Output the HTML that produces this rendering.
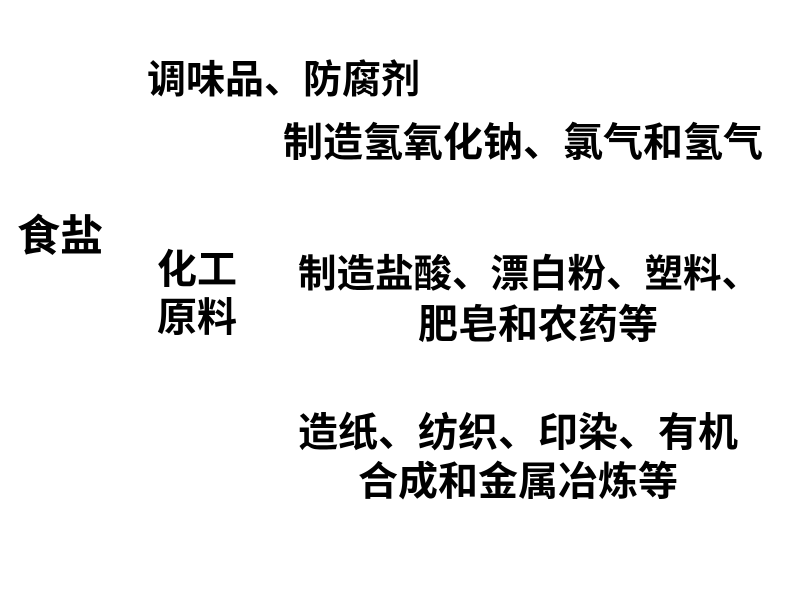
<!DOCTYPE html>
<html><head><meta charset="utf-8"><style>
html,body{margin:0;padding:0;background:#fff;width:800px;height:600px;overflow:hidden}
.t{position:absolute;font-family:"Liberation Sans","Noto Sans CJK SC","WenQuanYi Zen Hei",sans-serif;font-weight:bold;color:#000;white-space:nowrap;line-height:1}
</style></head><body>
<div class="t" style="left:147px;top:61px;font-size:39px">调味品、防腐剂</div>
<div class="t" style="left:283px;top:123px;font-size:40px">制造氢氧化钠、氯气和氢气</div>
<div class="t" style="left:17px;top:216px;font-size:43px">食盐</div>
<div class="t" style="left:157px;top:250px;font-size:40px">化工</div>
<div class="t" style="left:157px;top:298px;font-size:40px">原料</div>
<div class="t" style="left:298px;top:256px;font-size:38.5px">制造盐酸、漂白粉、塑料、</div>
<div class="t" style="left:418px;top:305px;font-size:40px">肥皂和农药等</div>
<div class="t" style="left:298px;top:413px;font-size:40px">造纸、纺织、印染、有机</div>
<div class="t" style="left:358px;top:462px;font-size:40px">合成和金属冶炼等</div>
</body></html>
